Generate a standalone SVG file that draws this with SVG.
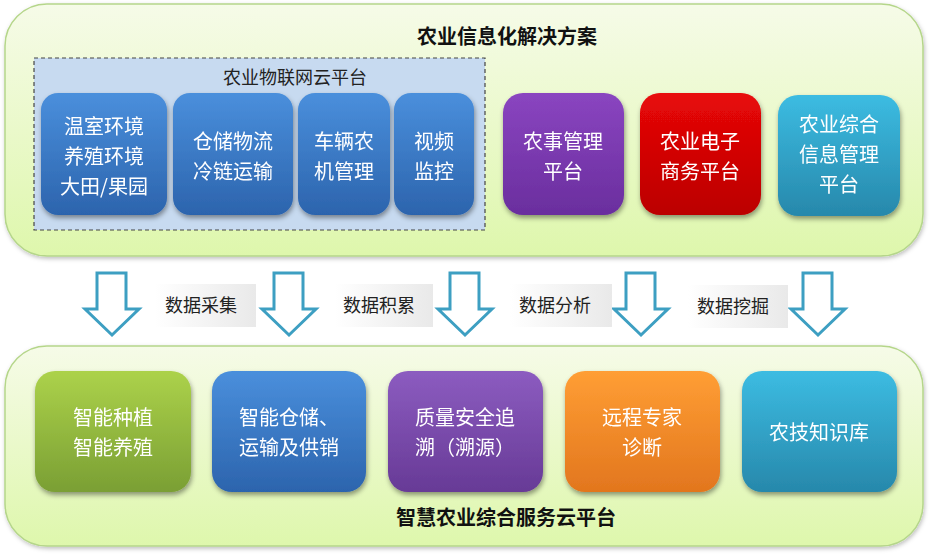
<svg xmlns="http://www.w3.org/2000/svg" width="930" height="558" viewBox="0 0 930 558">
<defs>
<linearGradient id="gPanel" x1="0" y1="0" x2="0" y2="1"><stop offset="0" stop-color="#f6fbe8"/><stop offset="1" stop-color="#def7ac"/></linearGradient>
<linearGradient id="gBlue" x1="0" y1="0" x2="0" y2="1"><stop offset="0" stop-color="#4a8fdc"/><stop offset="1" stop-color="#2c64ad"/></linearGradient>
<linearGradient id="gPurple" x1="0" y1="0" x2="0" y2="1"><stop offset="0" stop-color="#8a45c0"/><stop offset="1" stop-color="#6a2e9e"/></linearGradient>
<linearGradient id="gRed" x1="0" y1="0" x2="0" y2="1"><stop offset="0" stop-color="#e80808"/><stop offset="1" stop-color="#bb0000"/></linearGradient>
<linearGradient id="gTeal" x1="0" y1="0" x2="0" y2="1"><stop offset="0" stop-color="#3cbce2"/><stop offset="1" stop-color="#2788ab"/></linearGradient>
<linearGradient id="gGreen" x1="0" y1="0" x2="0" y2="1"><stop offset="0" stop-color="#acd24a"/><stop offset="1" stop-color="#7a9f34"/></linearGradient>
<linearGradient id="gPurple2" x1="0" y1="0" x2="0" y2="1"><stop offset="0" stop-color="#8c5cc0"/><stop offset="1" stop-color="#673a96"/></linearGradient>
<linearGradient id="gOrange" x1="0" y1="0" x2="0" y2="1"><stop offset="0" stop-color="#ff9e34"/><stop offset="1" stop-color="#e2761e"/></linearGradient>
<linearGradient id="gLabel" x1="0" y1="0" x2="1" y2="0"><stop offset="0" stop-color="#ffffff"/><stop offset="1" stop-color="#e9e9e9"/></linearGradient>
<filter id="sh" x="-10%" y="-10%" width="125%" height="130%"><feDropShadow dx="1" dy="3" stdDeviation="2.5" flood-color="#000" flood-opacity="0.4"/></filter>
<filter id="psh" x="-5%" y="-5%" width="110%" height="115%"><feDropShadow dx="1" dy="2" stdDeviation="2" flood-color="#000" flood-opacity="0.25"/></filter>
</defs>
<style>
.panel{fill:url(#gPanel);stroke:#b5d68a;stroke-width:1.5;filter:url(#psh)}
.node{filter:url(#sh)}
.nt{font-family:"Noto Sans CJK SC","Noto Sans",sans-serif;font-size:20px;fill:#ffffff;text-anchor:middle}
.title{font-family:"Noto Sans CJK SC","Noto Sans",sans-serif;font-size:20px;font-weight:bold;fill:#111;text-anchor:middle}
.sub{font-family:"Noto Sans CJK SC","Noto Sans",sans-serif;font-size:18px;fill:#222;text-anchor:middle}
.lbl{font-family:"Noto Sans CJK SC","Noto Sans",sans-serif;font-size:18px;fill:#222;text-anchor:middle}
.arrow{fill:#ffffff;stroke:#3d9fc2;stroke-width:3;stroke-linejoin:miter}
</style>
<rect width="930" height="558" fill="#ffffff"/>

<g id="top-panel">
<rect class="panel" x="5" y="4" width="918" height="252" rx="42"/>
<text class="title" x="507" y="44">农业信息化解决方案</text>
</g>

<g id="iot-platform">
<rect x="34" y="58" width="451" height="172" fill="#c7daf0" stroke="#444" stroke-width="1.2" stroke-dasharray="4,3"/>
<text class="sub" x="295" y="84">农业物联网云平台</text>
</g>

<g id="n-greenhouse" class="node">
<rect x="41" y="93" width="126" height="122" rx="17" fill="url(#gBlue)"/>
<text class="nt" x="104" y="134">温室环境</text>
<text class="nt" x="104" y="164">养殖环境</text>
<text class="nt" x="104" y="194">大田/果园</text>
</g>
<g id="n-storage" class="node">
<rect x="173" y="93" width="120" height="122" rx="17" fill="url(#gBlue)"/>
<text class="nt" x="233" y="149">仓储物流</text>
<text class="nt" x="233" y="179">冷链运输</text>
</g>
<g id="n-vehicle" class="node">
<rect x="298" y="93" width="92" height="122" rx="17" fill="url(#gBlue)"/>
<text class="nt" x="344" y="149">车辆农</text>
<text class="nt" x="344" y="179">机管理</text>
</g>
<g id="n-video" class="node">
<rect x="394" y="93" width="80" height="122" rx="17" fill="url(#gBlue)"/>
<text class="nt" x="434" y="149">视频</text>
<text class="nt" x="434" y="179">监控</text>
</g>
<g id="n-farm-mgmt" class="node">
<rect x="503" y="93" width="121" height="122" rx="20" fill="url(#gPurple)"/>
<text class="nt" x="563" y="149">农事管理</text>
<text class="nt" x="563" y="179">平台</text>
</g>
<g id="n-ecommerce" class="node">
<rect x="640" y="93" width="121" height="122" rx="20" fill="url(#gRed)"/>
<text class="nt" x="700" y="149">农业电子</text>
<text class="nt" x="700" y="179">商务平台</text>
</g>
<g id="n-info-mgmt" class="node">
<rect x="778" y="95" width="122" height="121" rx="20" fill="url(#gTeal)"/>
<text class="nt" x="839" y="132">农业综合</text>
<text class="nt" x="839" y="162">信息管理</text>
<text class="nt" x="839" y="192">平台</text>
</g>

<g id="connectors">
<path class="arrow" d="M97,273 H126 V309 H139 L112,335 L85,309 H97 Z"/>
<path class="arrow" d="M274,273 H303 V309 H316 L289,335 L262,309 H274 Z"/>
<path class="arrow" d="M450,273 H479 V309 H492 L465,335 L438,309 H450 Z"/>
<path class="arrow" d="M626,273 H655 V309 H668 L641,335 L614,309 H626 Z"/>
<path class="arrow" d="M803,273 H832 V309 H845 L818,335 L791,309 H803 Z"/>
<rect x="155" y="284" width="101" height="43" fill="url(#gLabel)"/>
<text class="lbl" x="201" y="312">数据采集</text>
<rect x="335" y="284" width="98" height="43" fill="url(#gLabel)"/>
<text class="lbl" x="379" y="312">数据积累</text>
<rect x="510" y="284" width="102" height="43" fill="url(#gLabel)"/>
<text class="lbl" x="555" y="312">数据分析</text>
<rect x="688" y="285" width="100" height="43" fill="url(#gLabel)"/>
<text class="lbl" x="733" y="313">数据挖掘</text>
</g>

<g id="bottom-panel">
<rect class="panel" x="5" y="346" width="918" height="200" rx="42"/>
<text class="title" x="506" y="525">智慧农业综合服务云平台</text>
</g>

<g id="n-planting" class="node">
<rect x="35" y="371" width="156" height="121" rx="20" fill="url(#gGreen)"/>
<text class="nt" x="113" y="425">智能种植</text>
<text class="nt" x="113" y="455">智能养殖</text>
</g>
<g id="n-logistics" class="node">
<rect x="212" y="371" width="154" height="121" rx="20" fill="url(#gBlue)"/>
<text class="nt" x="289" y="425">智能仓储、</text>
<text class="nt" x="289" y="455">运输及供销</text>
</g>
<g id="n-trace" class="node">
<rect x="388" y="371" width="155" height="121" rx="20" fill="url(#gPurple2)"/>
<text class="nt" x="465" y="425">质量安全追</text>
<text class="nt" x="465" y="455">溯（溯源）</text>
</g>
<g id="n-expert" class="node">
<rect x="565" y="371" width="155" height="121" rx="20" fill="url(#gOrange)"/>
<text class="nt" x="642" y="425">远程专家</text>
<text class="nt" x="642" y="455">诊断</text>
</g>
<g id="n-knowledge" class="node">
<rect x="742" y="371" width="155" height="121" rx="20" fill="url(#gTeal)"/>
<text class="nt" x="819" y="440">农技知识库</text>
</g>
</svg>
